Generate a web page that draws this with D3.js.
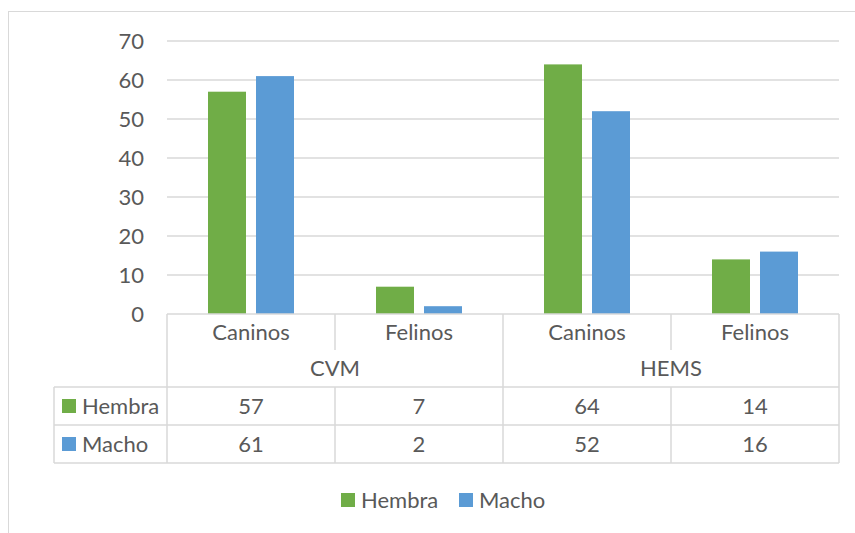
<!DOCTYPE html>
<html>
<head>
<meta charset="utf-8">
<script src="https://cdn.jsdelivr.net/npm/d3@7"></script>
<style>
  body { margin: 0; background: #fff; }
  svg text { font-family: Lato, "Open Sans", sans-serif; fill: #595959; }
</style>
</head>
<body>
<div id="viz"></div>
<script>
var groups = ["CVM", "HEMS"];
var categories = ["Caninos", "Felinos", "Caninos", "Felinos"];
var seriesNames = ["Hembra", "Macho"];
var hembra = [57, 7, 64, 14];
var macho = [61, 2, 52, 16];
var yTicks = [0, 10, 20, 30, 40, 50, 60, 70];

var colors = ["#70ad47", "#5b9bd5"];
var gridColor = "#d9d9d9";
var fontSize = 22;

var width = 855, height = 533;
var plotLeft = 167, plotRight = 839, plotTop = 41, plotBottom = 314;
var catRowH = 36, groupRowH = 37, dataRowH = 38;
var tableLeft = 54;

var svg = d3.select("#viz").append("svg")
	.attr("width", width)
	.attr("height", height);

// chart area border (runs off right/bottom)
svg.append("rect")
	.attr("x", 8.5).attr("y", 11.5)
	.attr("width", 900).attr("height", 600)
	.style("fill", "none")
	.style("stroke", gridColor)
	.style("stroke-width", 1);

var y = d3.scaleLinear().domain([0, 70]).range([plotBottom, plotTop]);

var x = d3.scaleBand()
	.domain(d3.range(categories.length))
	.range([plotLeft, plotRight])
	.padding(0);

var xs = d3.scaleBand()
	.domain(seriesNames)
	.range([0, x.bandwidth()])
	.paddingInner(10 / 48)
	.paddingOuter(41 / 48);

// gridlines
svg.append("g").selectAll("line")
	.data(yTicks.filter(function(d){ return d > 0; }))
	.enter().append("line")
	.attr("x1", plotLeft).attr("x2", plotRight)
	.attr("y1", function(d){ return y(d); })
	.attr("y2", function(d){ return y(d); })
	.style("stroke", gridColor)
	.style("stroke-width", 1.5);

// y tick labels
svg.append("g").selectAll("text")
	.data(yTicks)
	.enter().append("text")
	.attr("x", 144)
	.attr("y", function(d){ return y(d); })
	.attr("dy", "0.35em")
	.attr("text-anchor", "end")
	.style("font-size", fontSize + "px")
	.text(function(d){ return d; });

// bars
var seriesData = [hembra, macho];
seriesData.forEach(function(vals, s){
	svg.append("g").selectAll("rect")
		.data(vals)
		.enter().append("rect")
		.attr("x", function(d, i){ return x(i) + xs(seriesNames[s]); })
		.attr("y", function(d){ return y(d); })
		.attr("width", xs.bandwidth())
		.attr("height", function(d){ return y(0) - y(d); })
		.style("fill", colors[s]);
});

// data table
var t = svg.append("g")
	.style("stroke", gridColor)
	.style("stroke-width", 1.5);

var yCatTop = plotBottom, yGroupTop = yCatTop + catRowH, yDataTop = yGroupTop + groupRowH;
var yEnd = yDataTop + dataRowH * 2;

// horizontal lines
t.append("line").attr("x1", plotLeft).attr("x2", plotRight).attr("y1", yCatTop).attr("y2", yCatTop);
[0, 1, 2].forEach(function(r){
	var yy = yDataTop + r * dataRowH;
	t.append("line").attr("x1", tableLeft).attr("x2", plotRight).attr("y1", yy).attr("y2", yy);
});

// vertical lines
t.append("line").attr("x1", tableLeft).attr("x2", tableLeft).attr("y1", yDataTop).attr("y2", yEnd);
d3.range(categories.length + 1).forEach(function(i){
	var xx = i < categories.length ? x(i) : plotRight;
	if (i === 1 || i === 3) {
		t.append("line").attr("x1", xx).attr("x2", xx).attr("y1", yCatTop).attr("y2", yGroupTop);
		t.append("line").attr("x1", xx).attr("x2", xx).attr("y1", yDataTop).attr("y2", yEnd);
	} else {
		t.append("line").attr("x1", xx).attr("x2", xx).attr("y1", yCatTop).attr("y2", yEnd);
	}
});

// category labels
svg.append("g").selectAll("text")
	.data(categories)
	.enter().append("text")
	.attr("x", function(d, i){ return x(i) + x.bandwidth() / 2; })
	.attr("y", yCatTop + catRowH / 2)
	.attr("dy", "0.35em")
	.attr("text-anchor", "middle")
	.style("font-size", fontSize + "px")
	.text(function(d){ return d; });

// group labels
svg.append("g").selectAll("text")
	.data(groups)
	.enter().append("text")
	.attr("x", function(d, i){ return x(i * 2) + x.bandwidth(); })
	.attr("y", yGroupTop + groupRowH / 2)
	.attr("dy", "0.35em")
	.attr("text-anchor", "middle")
	.style("font-size", fontSize + "px")
	.text(function(d){ return d; });

// data rows
seriesData.forEach(function(vals, s){
	var rowMid = yDataTop + s * dataRowH + dataRowH / 2;
	svg.append("rect")
		.attr("x", 62).attr("y", rowMid - 7)
		.attr("width", 14).attr("height", 14)
		.style("fill", colors[s]);
	svg.append("text")
		.attr("x", 82).attr("y", rowMid)
		.attr("dy", "0.35em")
		.style("font-size", fontSize + "px")
		.text(seriesNames[s]);
	svg.append("g").selectAll("text")
		.data(vals)
		.enter().append("text")
		.attr("x", function(d, i){ return x(i) + x.bandwidth() / 2; })
		.attr("y", rowMid)
		.attr("dy", "0.35em")
		.attr("text-anchor", "middle")
		.style("font-size", fontSize + "px")
		.text(function(d){ return d; });
});

// legend
var legendX = [341, 459];
var legendY = 500;
seriesNames.forEach(function(name, s){
	svg.append("rect")
		.attr("x", legendX[s]).attr("y", legendY - 7)
		.attr("width", 14).attr("height", 14)
		.style("fill", colors[s]);
	svg.append("text")
		.attr("x", legendX[s] + 20).attr("y", legendY)
		.attr("dy", "0.35em")
		.style("font-size", fontSize + "px")
		.text(name);
});
</script>
</body>
</html>
